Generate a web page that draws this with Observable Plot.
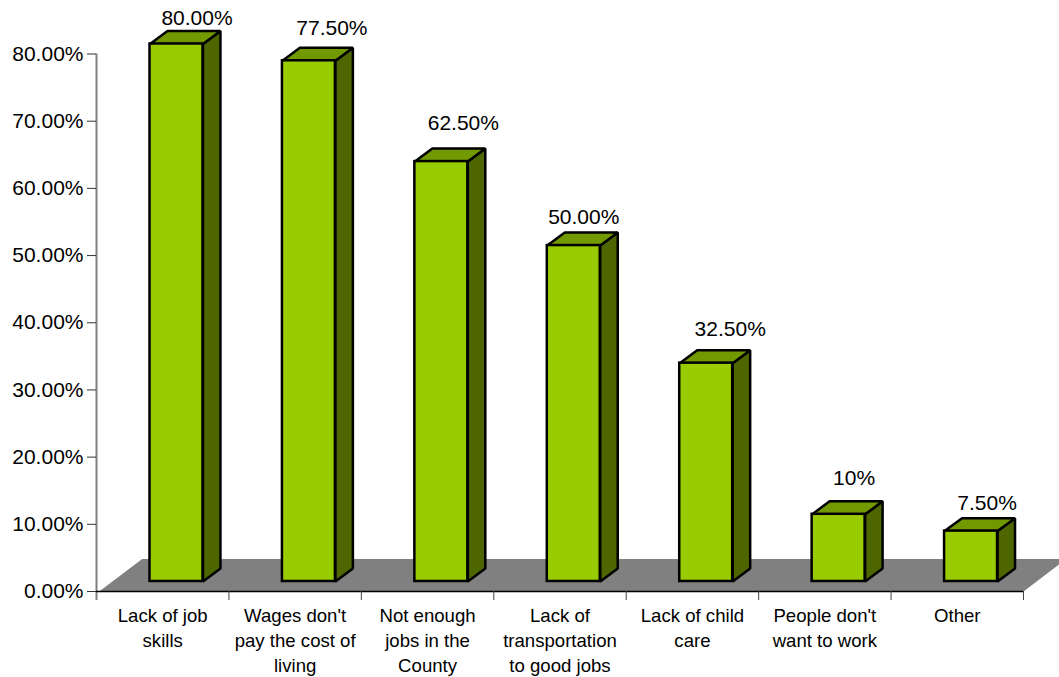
<!DOCTYPE html>
<html>
<head>
<meta charset="utf-8">
<script src="https://cdn.jsdelivr.net/npm/d3@7"></script>
<script src="https://cdn.jsdelivr.net/npm/@observablehq/plot@0.6"></script>
<style>
  html, body { margin: 0; padding: 0; background: #fff; overflow: hidden; }
  svg { display: block; overflow: hidden !important; }
</style>
</head>
<body>
<div id="chart"></div>
<script>
// Survey results: perceived barriers to employment
const categories = [
  "Lack of job\nskills",
  "Wages don't\npay the cost of\nliving",
  "Not enough\njobs in the\nCounty",
  "Lack of\ntransportation\nto good jobs",
  "Lack of child\ncare",
  "People don't\nwant to work",
  "Other"
];
const values = [80, 77.5, 62.5, 50, 32.5, 10, 7.5];
const valueLabels = ["80.00%", "77.50%", "62.50%", "50.00%", "32.50%", "10%", "7.50%"];
const yTicks = [0, 10, 20, 30, 40, 50, 60, 70, 80];
const categoryEdges = [1, 2, 3, 4, 5, 6, 7];

// Hand-tuned label nudges, in pixels from the top of each bar's front face
const labelNudgeX = [20.5, 23, 22, 10, 24, 15.5, 16];
const labelNudgeY = [-25.5, -33, -38, -28, -33.6, -36, -27.6];

// Oblique projection, in axis units: floor depth, bar inset and bar depth
const floorDX = 0.325, floorDY = 4.85;
const insetDX = 0.104, insetDY = 1.49;
const depthDX = 0.132, depthDY = 1.93;
const barHalf = 0.2;
const tickLength = 1.34;

const bars = values.map((v, i) => ({
  i, v,
  x0: i + 0.5 - barHalf + insetDX,
  x1: i + 0.5 + barHalf + insetDX,
  y0: insetDY,
  y1: insetDY + v
}));

const face = (pts) => (b) => pts(b).map(([x, y]) => ({bar: b.i, x, y}));

const sideFace = bars.flatMap(face((b) => [
  [b.x1, b.y0], [b.x1 + depthDX, b.y0 + depthDY],
  [b.x1 + depthDX, b.y1 + depthDY], [b.x1, b.y1]
]));
const topFace = bars.flatMap(face((b) => [
  [b.x0, b.y1], [b.x1, b.y1],
  [b.x1 + depthDX, b.y1 + depthDY], [b.x0 + depthDX, b.y1 + depthDY]
]));
const floor = [
  {x: 0.02, y: 0}, {x: 7, y: 0},
  {x: 7 + floorDX, y: floorDY}, {x: 0.02 + floorDX, y: floorDY}
];

const faceLine = (data, fill) => Plot.line(data, {
  x: "x", y: "y", z: "bar", curve: "linear-closed",
  fill, stroke: "#000", strokeWidth: 2.5, strokeLinejoin: "miter"
});

const chart = Plot.plot({
  width: 1059,
  height: 677,
  marginLeft: 96,
  marginRight: 36,
  marginTop: 53.5,
  marginBottom: 86,
  style: {fontFamily: "'Liberation Sans', Arial, sans-serif", background: "#fff", color: "#000"},
  x: {domain: [0, 7], axis: null},
  y: {domain: [0, 80], axis: null},
  marks: [
    Plot.line(floor, {x: "x", y: "y", curve: "linear-closed", fill: "#808080", stroke: "none"}),
    // Value axis
    Plot.ruleX([0], {y1: -tickLength, y2: 80, stroke: "#808080", strokeWidth: 2}),
    Plot.axisY({
      ticks: yTicks,
      tickFormat: (d) => d.toFixed(2) + "%",
      tickSize: 9,
      tickPadding: 4,
      stroke: "#333",
      fontSize: 21,
      fill: "#000",
      label: null
    }),
    // Category axis
    Plot.ruleY([0], {x1: 0, x2: 7, stroke: "#000", strokeWidth: 1.5}),
    Plot.ruleX(categoryEdges, {y1: 0, y2: -tickLength, stroke: "#444", strokeWidth: 1}),
    Plot.text(categories, {
      x: (d, i) => i + 0.5,
      y: () => 0,
      text: (d) => d,
      lineAnchor: "top",
      lineHeight: 1.344,
      dy: 13,
      fontSize: 18.6,
      fill: "#000"
    }),
    // Bars
    faceLine(sideFace, "#4d6600"),
    faceLine(topFace, "#739900"),
    Plot.rect(bars, {x1: "x0", x2: "x1", y1: "y0", y2: "y1", fill: "#99cc00", stroke: "#000", strokeWidth: 2.5}),
    // Value labels, one mark each so each can carry its own nudge
    ...bars.map((b) => Plot.text([b], {
      x: (d) => (d.x0 + d.x1) / 2,
      y: "y1",
      text: () => valueLabels[b.i],
      dx: labelNudgeX[b.i],
      dy: labelNudgeY[b.i],
      fontSize: 21,
      fill: "#000"
    }))
  ]
});

document.getElementById("chart").appendChild(chart);
</script>
</body>
</html>
